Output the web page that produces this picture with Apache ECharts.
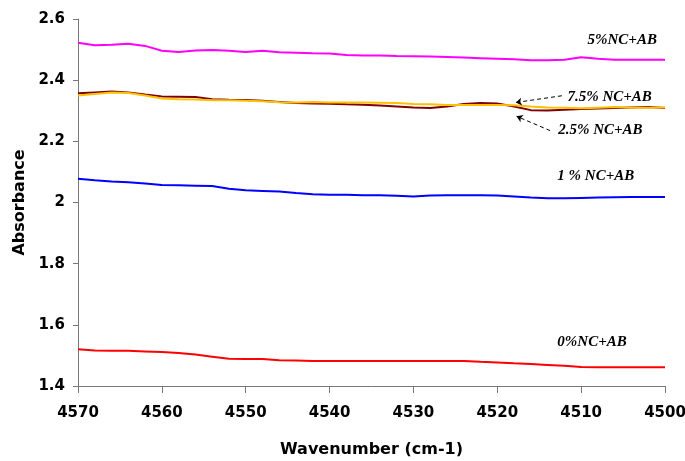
<!DOCTYPE html>
<html><head><meta charset="utf-8">
<script src="https://cdn.jsdelivr.net/npm/echarts@6/dist/echarts.min.js"></script>
<style>html,body{margin:0;padding:0;background:#fff}#c{width:685px;height:461px}</style>
</head><body><div id="c"></div>
<script>
const wavenumbers = [4570,4568,4566,4564,4562,4560,4558,4556,4554,4552,4550,4548,4546,4544,4542,4540,4538,4536,4534,4532,4530,4528,4526,4524,4522,4520,4518,4516,4514,4512,4510,4508,4506,4504,4502,4500];
const nc5  = [2.522,2.514,2.516,2.519,2.512,2.496,2.492,2.497,2.499,2.496,2.492,2.496,2.491,2.490,2.488,2.487,2.482,2.481,2.481,2.479,2.478,2.477,2.476,2.474,2.472,2.470,2.468,2.465,2.465,2.467,2.475,2.470,2.467,2.467,2.467,2.467];
const nc25 = [2.357,2.360,2.363,2.360,2.353,2.347,2.346,2.345,2.338,2.336,2.335,2.333,2.329,2.325,2.324,2.323,2.321,2.320,2.317,2.314,2.311,2.309,2.314,2.322,2.325,2.324,2.314,2.302,2.301,2.303,2.306,2.307,2.309,2.311,2.312,2.309];
const nc75 = [2.350,2.355,2.360,2.358,2.350,2.340,2.338,2.337,2.334,2.334,2.333,2.331,2.328,2.327,2.329,2.327,2.327,2.327,2.326,2.325,2.322,2.321,2.319,2.319,2.319,2.319,2.318,2.314,2.311,2.310,2.308,2.310,2.312,2.310,2.310,2.311];
const nc1  = [2.078,2.073,2.069,2.066,2.062,2.057,2.056,2.055,2.054,2.045,2.040,2.038,2.036,2.031,2.027,2.025,2.025,2.024,2.024,2.022,2.020,2.023,2.024,2.024,2.024,2.023,2.020,2.016,2.014,2.014,2.015,2.016,2.017,2.018,2.018,2.018];
const nc0  = [1.520,1.516,1.515,1.515,1.513,1.511,1.508,1.503,1.496,1.489,1.488,1.488,1.484,1.483,1.482,1.482,1.482,1.482,1.482,1.482,1.482,1.482,1.482,1.482,1.479,1.477,1.474,1.472,1.469,1.466,1.462,1.461,1.461,1.461,1.461,1.461];
const seriesNames = ['5%NC+AB','2.5% NC+AB','7.5% NC+AB','1 % NC+AB','0%NC+AB'];
const xTicks = {min:4500, max:4570, interval:10};
const yTicks = {min:1.4, max:2.6, interval:0.2};

const pair = arr => wavenumbers.map((w,i)=>[w, arr[i]]);
const labelFont = {fontFamily:'Liberation Serif', fontStyle:'italic', fontWeight:'bold', fontSize:15, color:'#000'};
function tag(text, coord){
  return {coord: coord, symbol:'rect', symbolSize:1, itemStyle:{color:'rgba(0,0,0,0)'},
    label:{show:true, position:'right', distance:0, formatter:text, ...labelFont}};
}
function arrow(from, to){
  return [{coord:from},{coord:to}];
}
const axisFont = {fontFamily:'DejaVu Sans', fontWeight:'bold', fontSize:15, color:'#000'};
const nameFont = {fontFamily:'DejaVu Sans', fontWeight:'bold', fontSize:16, color:'#000'};
const arrowLine = {symbol:['none','arrow'], symbolSize:6, silent:true, label:{show:false},
  emphasis:{disabled:true},
  lineStyle:{color:'#000', type:[4,3], width:1}, itemStyle:{color:'#000'}};

const chart = echarts.init(document.getElementById('c'), null, {renderer:'canvas'});
chart.setOption({
  animation:false,
  backgroundColor:'#fff',
  grid:{left:78, right:20, top:19, bottom:75, containLabel:false, outerBoundsMode:'none'},
  xAxis:{type:'value', inverse:true, min:xTicks.min, max:xTicks.max, interval:xTicks.interval,
    name:'Wavenumber (cm-1)', nameLocation:'middle', nameGap:56, nameTextStyle:nameFont,
    axisLine:{show:true, onZero:false, lineStyle:{color:'#777', width:1}},
    axisTick:{show:true, inside:false, length:7, lineStyle:{color:'#777'}},
    splitLine:{show:false},
    axisLabel:{...axisFont, margin:20, showMinLabel:true, showMaxLabel:true, formatter: v => String(v)}},
  yAxis:{type:'value', min:yTicks.min, max:yTicks.max, interval:yTicks.interval,
    name:'Absorbance', nameLocation:'middle', nameGap:48, nameRotate:90, nameTextStyle:nameFont,
    axisLine:{show:true, onZero:false, lineStyle:{color:'#777', width:1}},
    axisTick:{show:true, inside:false, length:5, lineStyle:{color:'#777'}},
    splitLine:{show:false},
    axisLabel:{...axisFont, margin:13}},
  series:[
    {name:seriesNames[0], type:'line', data:pair(nc5), showSymbol:false, lineStyle:{color:'#FF00FF', width:2}, itemStyle:{color:'#FF00FF'},
      markPoint:{silent:true, data:[tag(seriesNames[0],[4509.3,2.530])]}},
    {name:seriesNames[1], type:'line', data:pair(nc25), showSymbol:false, lineStyle:{color:'#800000', width:2}, itemStyle:{color:'#800000'},
      markPoint:{silent:true, data:[tag(seriesNames[1],[4512.8,2.238])]},
      markLine:{...arrowLine, data:[arrow([4513.7,2.235],[4517.7,2.282])]}},
    {name:seriesNames[2], type:'line', data:pair(nc75), showSymbol:false, lineStyle:{color:'#FFC000', width:2}, itemStyle:{color:'#FFC000'},
      markPoint:{silent:true, data:[tag(seriesNames[2],[4511.7,2.346])]},
      markLine:{...arrowLine, data:[arrow([4512.3,2.349],[4517.8,2.327])]}},
    {name:seriesNames[3], type:'line', data:pair(nc1), showSymbol:false, lineStyle:{color:'#0000FF', width:2}, itemStyle:{color:'#0000FF'},
      markPoint:{silent:true, data:[tag(seriesNames[3],[4512.9,2.086])]}},
    {name:seriesNames[4], type:'line', data:pair(nc0), showSymbol:false, lineStyle:{color:'#FF0000', width:2}, itemStyle:{color:'#FF0000'},
      markPoint:{silent:true, data:[tag(seriesNames[4],[4512.9,1.542])]}}
  ]
});
</script></body></html>
